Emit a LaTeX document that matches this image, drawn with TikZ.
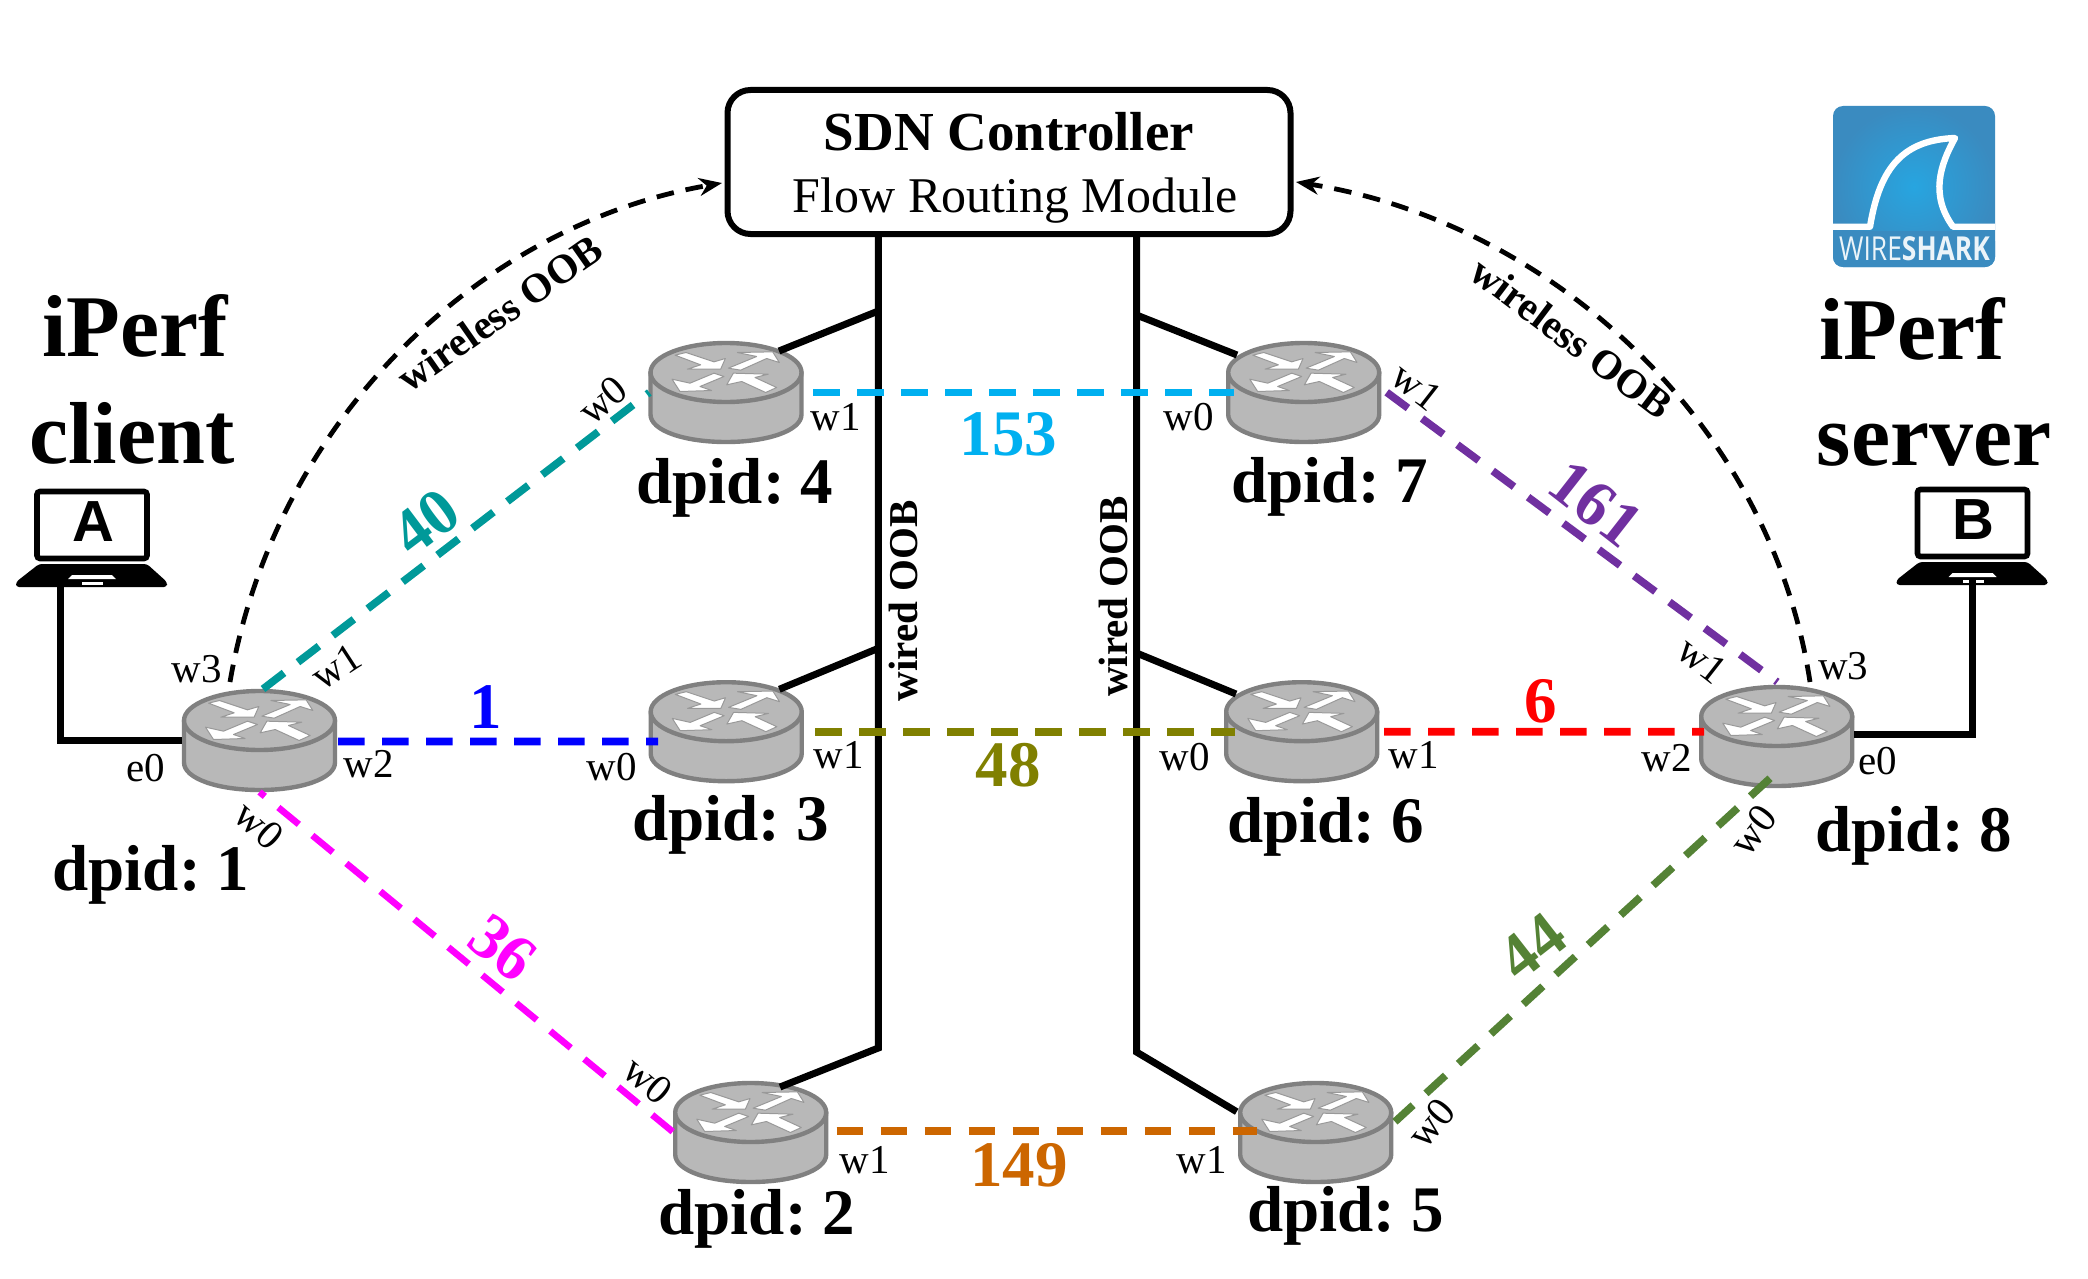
\documentclass[tikz,border=0pt]{standalone}
\usepackage{fontspec}
\setmainfont{Liberation Serif}
\setsansfont{Liberation Sans}
\newfontfamily\wsfont{Open Sans}
\AtBeginDocument{\frenchspacing}
\usetikzlibrary{arrows.meta,calc}
\definecolor{routerfill}{HTML}{B8B8B8}
\definecolor{routerline}{HTML}{808080}
\definecolor{lteal}{HTML}{009999}
\definecolor{lblue}{HTML}{0000FF}
\definecolor{lcyan}{HTML}{00B0F0}
\definecolor{lolive}{HTML}{808000}
\definecolor{lred}{HTML}{FF0000}
\definecolor{lorange}{HTML}{CC6600}
\definecolor{lpurple}{HTML}{7030A0}
\definecolor{lgreen}{HTML}{548235}
\definecolor{lpink}{HTML}{FF00FF}
\definecolor{wsblue}{HTML}{3A8BC0}
\definecolor{wslight}{HTML}{27A5E0}
\tikzset{
  routerbox/.style={rectangle,minimum width=77.5pt,minimum height=51.5pt,inner sep=0pt,outer sep=0pt},
  routerbody/.style={fill=routerfill,draw=routerline,line width=2.2pt,line join=round},
  routerarrow/.style={fill=white,draw=routerline!80,line width=.5pt,line join=round},
  wiredline/.style={line width=3.5pt,black,line join=miter},
  link/.style={line width=3.8pt,dash pattern=on 13.25pt off 8.75pt},
  oob/.style={line width=2.4pt,black,dash pattern=on 8.8pt off 6pt,-{Stealth[length=11.5pt,width=9pt]}},
  port/.style={font=\fontsize{20.5}{20.5}\selectfont,inner sep=0pt},
  portb/.style={port,anchor=base},
  dpid/.style={font=\fontsize{32.5}{32.5}\selectfont\bfseries,inner sep=0pt,anchor=base},
  linkno/.style={font=\fontsize{32.5}{32.5}\selectfont\bfseries,inner sep=0pt},
  iperf/.style={font=\fontsize{44}{44}\selectfont\bfseries,inner sep=0pt,anchor=base},
  oobtext/.style={font=\fontsize{20.5}{20.5}\selectfont\bfseries,inner sep=0pt},
}
\newcommand{\routerat}[3]{%
  \node[routerbox] (#1) at (#2,#3) {};
  \begin{scope}[shift={(#2,#3)}]
    \path[routerbody] (-75.5,-20) -- (-75.5,22) .. controls (-75.5,38) and (-42,49.5) .. (0,49.5) .. controls (42,49.5) and (75.5,38) .. (75.5,22) -- (75.5,-20) -- cycle;
    \path[routerbody] (0,-20) ellipse [x radius=75.5,y radius=29.5];
  \end{scope}
  \begin{scope}[shift={(#2,#3-20)},x=.16667pt,y=-.16667pt]
    \begin{scope}[shift={(-378,-220)}]
    \path[routerarrow] (225,168)--(258,160)--(342,188)--(376,178)--(362,210)--(262,210)--(302,197)--cycle;
    \path[routerarrow] (385,207)--(470,172)--(412,160)--(518,158)--(538,190)--(500,178)--(422,213)--cycle;
    \path[routerarrow] (372,232)--(342,222)--(270,252)--(216,240)--(240,277)--(335,274)--(300,262)--cycle;
    \path[routerarrow] (380,257)--(400,222)--(505,225)--(465,235)--(530,265)--(497,280)--(425,247)--cycle;
    \end{scope}
  \end{scope}%
}
\newcommand{\laptopat}[4]{%
  \node[rectangle,minimum width=75.5pt,minimum height=49pt,inner sep=0pt,outer sep=0pt] (#1) at (#2,#3) {};
  \begin{scope}[shift={(#2,#3)}]
    \draw[line width=2.8pt,fill=white,rounded corners=1.5pt] (-55,-46.5) rectangle (55,20.5);
    \fill[black,rounded corners=1.5pt] (-53,26) -- (55,26) -- (75,44) -- (75,49) -- (-76,49) -- (-76,44) -- cycle;
    \fill[white] (-20,37) -- (20,37) -- (24,41) -- (-24,41) -- cycle;
    \fill[white] (-10,44) rectangle (11,47);
    \node[font=\sffamily\bfseries\fontsize{29}{29}\selectfont,inner sep=0pt] (#1t) at (1,-16) {#4};
  \end{scope}%
}
\begin{document}
\begin{tikzpicture}[x=.5pt,y=-.5pt]
\useasboundingbox (0,0) rectangle (2088,1279);
\fill[white] (0,0) rectangle (2088,1279);

% controller
\node[draw,line width=3pt,rounded corners=11.5pt,minimum width=281.5pt,minimum height=72pt,inner sep=0pt,outer sep=0pt,fill=white] (ctrl) at (1009,162) {};
\node[font=\fontsize{27.5}{27.5}\selectfont\bfseries,inner sep=0pt,anchor=base] (ctrlA) at (1009,150) {SDN Controller};
\node[font=\fontsize{25}{25}\selectfont,inner sep=0pt,anchor=base] (ctrlB) at (1015,212.3) {Flow Routing Module};

\routerat{r1}{259.5}{740.5}
\routerat{r4}{726}{392.5}
\routerat{r3}{726.2}{731.7}
\routerat{r2}{750.7}{1132.5}
\routerat{r7}{1303.7}{392.5}
\routerat{r6}{1301.7}{731.7}
\routerat{r5}{1315.7}{1132.5}
\routerat{r8}{1776.7}{736.5}

% wired OOB trunks
\coordinate (tl4) at (878.3,311);
\coordinate (tl3) at (878.3,648.3);
\coordinate (tl2) at (878.3,1048);
\coordinate (tr7) at (1136.5,315);
\coordinate (tr6) at (1136.5,653);
\coordinate (tr5) at (1136.5,1052);
\draw[wiredline] ($(ctrl.south)+(-130.7,0)$) -- (tl2) -- ($(r2.center)+(29.3,-45.5)$);
\draw[wiredline] ($(ctrl.south)+(127.5,0)$) -- (tr5) -- ($(r5.center)+(-79,-20.8)$);
\draw[wiredline] (tl4) -- ($(r4.center)+(53,-41.5)$);
\draw[wiredline] (tl3) -- ($(r3.center)+(53.1,-42.4)$);
\draw[wiredline] (tr7) -- ($(r7.center)+(-66.7,-37.5)$);
\draw[wiredline] (tr6) -- ($(r6.center)+(-65.7,-37.7)$);

% laptops
\laptopat{la}{92}{538}{A}
\laptopat{lb}{1972.5}{536}{B}
\draw[wiredline] ($(la.south)+(-31.3,0)$) |- (r1.west);
\draw[wiredline] ($(lb.south)+(0,-5)$) |- ($(r8.east)+(0,-2.5)$);

% links
\draw[link,lteal] ($(r1.north)+(3.5,0)$) -- ($(r4.west)+(.8,0)$);
\draw[link,lblue] ($(r1.east)+(1,1)$) -- ($(r3.west)+(9.3,9.8)$);
\draw[link,lpink,line width=3.3pt] ($(r2.west)+(-.5,-.8)$) -- (r1.south);
\draw[link,lcyan] ($(r4.east)+(9.8,0)$) -- ($(r7.west)+(7.8,0)$);
\draw[link,lolive] ($(r3.east)+(11.3,0)$) -- ($(r6.west)+(10.8,0)$);
\draw[link,lred] ($(r6.east)+(4.8,0)$) -- ($(r8.west)+(4.8,-4.8)$);
\draw[link,lorange] ($(r2.east)+(8.5,-1.8)$) -- ($(r5.west)+(18.5,-1.8)$);
\draw[link,lpurple] ($(r7.east)+(5.5,-.2)$) -- ($(r8.north)+(.6,-3)$);
\draw[link,lgreen] ($(r8.south)+(-6.7,-9.7)$) -- ($(r5.east)+(1.8,-10.8)$);

% wireless arcs
\draw[oob] ($(r1.north)+(-29.5,-7)$) .. controls (275,420) and (480,225) .. ($(ctrl.west)+(-5.5,21)$);
\draw[oob] ($(r8.north)+(33.3,-3)$) .. controls (1770,420) and (1548,222) .. ($(ctrl.east)+(5.5,20)$);
\node[oobtext,rotate=35] (oobL) at (500,313) {wireless OOB};
\node[oobtext,rotate=-37] (oobR) at (1572,338) {wireless OOB};
\node[oobtext,rotate=90,anchor=base west] (wiredL) at (917,701.7) {wired OOB};
\node[oobtext,rotate=90,anchor=base west] (wiredR) at (1127.7,697.3) {wired OOB};

% ports
\node[portb] (p1a) at (197,682) {w3};
\node[portb] (p1b) at (146,781.7) {e0};
\node[portb] (p1c) at (369,777.7) {w2};
\node[port,rotate=33] (p1d) at (336.7,666.7) {w1};
\node[port,rotate=-42] (p1e) at (259.5,825) {w0};
\node[port,rotate=40] (p4a) at (602.7,400) {w0};
\node[portb] (p4b) at (835.5,430) {w1};
\node[portb] (p3a) at (612,780) {w0};
\node[portb] (p3b) at (839,768.3) {w1};
\node[port,rotate=-40] (p2a) at (648,1080) {w0};
\node[portb] (p2b) at (865,1173) {w1};
\node[portb] (p7a) at (1189,430) {w0};
\node[port,rotate=-38] (p7b) at (1416.7,386.7) {w1};
\node[portb] (p6a) at (1184.5,770.7) {w0};
\node[portb] (p6b) at (1413.7,768.3) {w1};
\node[portb] (p5a) at (1202,1173) {w1};
\node[port,rotate=50] (p5b) at (1431.7,1123) {w0};
\node[port,rotate=-38] (p8a) at (1702,660) {w1};
\node[portb] (p8b) at (1843.3,679.3) {w3};
\node[portb] (p8c) at (1666.7,771.7) {w2};
\node[portb] (p8d) at (1877.8,774) {e0};
\node[port,rotate=52] (p8e) at (1753,830) {w0};

% link numbers
\node[linkno,text=lteal,rotate=37] (n40) at (426,522) {40};
\node[linkno,text=lblue] (n1) at (486,707) {1};
\node[linkno,text=lpink,rotate=-38] (n36) at (503,948) {36};
\node[linkno,text=lcyan] (n153) at (1008.5,434.7) {153};
\node[linkno,text=lolive] (n48) at (1008,765.5) {48};
\node[linkno,text=lorange] (n149) at (1019,1165) {149};
\node[linkno,text=lred] (n6) at (1541,701) {6};
\node[linkno,text=lpurple,rotate=-38] (n161) at (1595.5,504) {161};
\node[linkno,text=lgreen,rotate=38] (n44) at (1532,947) {44};

% dpid labels
\node[dpid] (d1) at (151,890) {dpid: 1};
\node[dpid] (d4) at (735,503) {dpid: 4};
\node[dpid] (d3) at (730.5,840) {dpid: 3};
\node[dpid] (d2) at (757,1234) {dpid: 2};
\node[dpid] (d7) at (1330,502.7) {dpid: 7};
\node[dpid] (d6) at (1325.5,842.7) {dpid: 6};
\node[dpid] (d5) at (1345.8,1231.7) {dpid: 5};
\node[dpid] (d8) at (1914,851.7) {dpid: 8};

% iperf labels
\node[iperf] (i1) at (135,356) {iPerf};
\node[iperf] (i2) at (131.7,463) {client};
\node[iperf] (i3) at (1912,359) {iPerf};
\node[iperf] (i4) at (1934,465) {server};

% wireshark logo
\shade[rounded corners=5pt,inner color=wslight,outer color=wsblue] (1833,106) rectangle (1995,267);
\draw[white,line width=3.2pt,line join=round] (1833,226.7) -- (1870,226.7) .. controls (1880,165) and (1905,140) .. (1955,138) .. controls (1940,165) and (1930,195) .. (1953,226.7) -- (1995,226.7);
\fill[wsblue,rounded corners=5pt] (1833,231) -- (1995,231) -- (1995,267) -- (1833,267) -- cycle;
\fill[wsblue] (1833,231) rectangle (1995,245);
\node[font=\wsfont\fontsize{16.5}{16.5}\selectfont,text=white!90!wsblue,inner sep=0pt,xscale=.8] (wslogo) at (1914.5,249) {WIRE\textbf{SHARK}};
\end{tikzpicture}
\end{document}
